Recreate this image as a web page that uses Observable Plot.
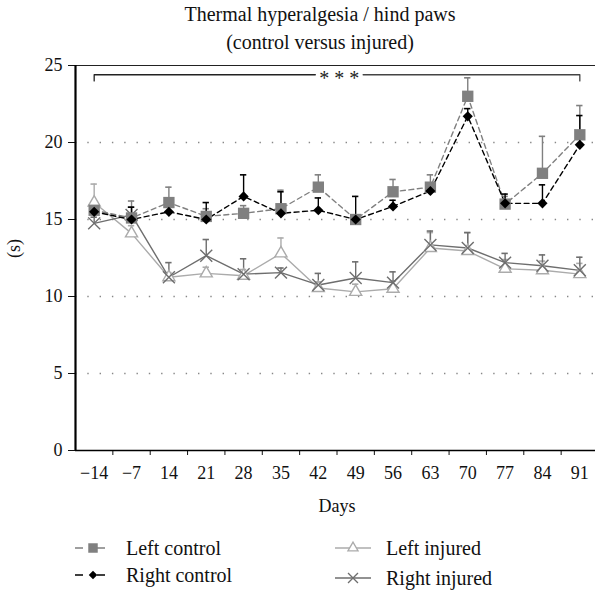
<!DOCTYPE html>
<html><head><meta charset="utf-8">
<script src="https://cdn.jsdelivr.net/npm/d3@7"></script>
<script src="https://cdn.jsdelivr.net/npm/@observablehq/plot@0.6"></script>
<style>
body{margin:0;background:#fff;font-family:"Liberation Serif",serif;color:#111;}
#wrap{position:relative;width:595px;height:591px;overflow:hidden;}
#title{position:absolute;left:45px;top:0px;width:550px;text-align:center;font-size:20px;line-height:28px;}
#chart{position:absolute;left:0;top:55px;}
.leg{position:absolute;font-size:20px;line-height:22px;display:flex;align-items:center;white-space:nowrap;}
.leg svg{margin-right:12px;}
</style></head><body>
<div id="wrap">
<div id="title">Thermal hyperalgesia / hind paws<br>(control versus injured)</div>
<div id="chart"></div>
<div id="legend"></div>
</div>
<script>
const days = ["\u221214","\u22127","14","21","28","35","42","49","56","63","70","77","84","91"];
const leftControl    = [15.6, 15.1, 16.1, 15.2, 15.4, 15.7, 17.1, 15.0, 16.8, 17.1, 23.0, 16.0, 18.0, 20.5];
const leftControlErr = [0.5, 1.1, 1.0, 0.5, 0.5, 1.2, 0.8, 0.3, 0.8, 0.8, 1.2, 0.5, 2.4, 1.9];
const rightControl    = [15.5, 15.0, 15.5, 15.0, 16.5, 15.4, 15.6, 15.0, 15.85, 16.85, 21.7, 16.05, 16.05, 19.85];
const rightControlErr = [0.5, 0.8, 0.3, 1.1, 1.4, 1.4, 0.8, 1.5, 0.4, 0.5, 0.5, 0.6, 1.2, 1.9];
const leftInjured    = [16.1, 14.1, 11.25, 11.5, 11.35, 12.8, 10.55, 10.3, 10.5, 13.15, 12.95, 11.8, 11.7, 11.45];
const leftInjuredErr = [1.2, 0.5, 0.3, 0.4, 0.4, 1.0, 0.4, 0.5, 0.5, 1.0, 1.2, 0.6, 0.6, 0.7];
const rightInjured    = [14.75, 15.3, 11.25, 12.65, 11.45, 11.55, 10.75, 11.2, 10.9, 13.35, 13.15, 12.2, 12.0, 11.7];
const rightInjuredErr = [0.4, 0.5, 0.95, 1.05, 1.0, 0.3, 0.75, 1.05, 0.7, 0.9, 1.0, 0.6, 0.7, 0.85];
const yTicks = [0, 5, 10, 15, 20, 25];
const gridValues = [5, 10, 15, 20];
const xLabel = "Days";
const yLabel = "(s)";
const bracketLeft  = [{i: 0, y: 24.0}, {i: 0, y: 24.4}, {i: 5.92, y: 24.4}];
const bracketRight = [{i: 7.2, y: 24.4}, {i: 13, y: 24.4}, {i: 13, y: 24.0}];
const bracketLabel = [{i: 6.56, y: 24.4, t: "* * *"}];

const series = [
  {name: "Left injured", vals: leftInjured, errs: leftInjuredErr, color: "#ababab", dash: null, symbol: "triangle", fill: "white", r: 4.5},
  {name: "Right injured", vals: rightInjured, errs: rightInjuredErr, color: "#6e6e6e", dash: null, symbol: "times", fill: "none", r: 5.5},
  {name: "Left control", vals: leftControl, errs: leftControlErr, color: "#808080", dash: "5,3.5", symbol: "square", fill: "#808080", r: 6.4},
  {name: "Right control", vals: rightControl, errs: rightControlErr, color: "#000000", dash: "5,3.5", symbol: "diamond2", fill: "#000000", r: 4.6}
];
const rowsOf = s => s.vals.map((v, i) => ({i, v, top: v + s.errs[i]}));

const marks = [
  Plot.ruleY(gridValues, {stroke: "#888", strokeWidth: 1.5, strokeDasharray: "1.4,10.9"}),
  Plot.ruleY([25], {stroke: "#222", strokeWidth: 1.2}),
  Plot.ruleY([0], {stroke: "#000", strokeWidth: 1.6}),
  Plot.ruleX([-0.5], {y1: 0, y2: 25, stroke: "#000", strokeWidth: 2.2}),
  Plot.line(bracketLeft, {x: "i", y: "y", stroke: "#222", strokeWidth: 1.3}),
  Plot.line(bracketRight, {x: "i", y: "y", stroke: "#444", strokeWidth: 1.3}),
  Plot.text(bracketLabel, {x: "i", y: "y", text: "t", fontSize: 20, fill: "#222", dy: 4}),
  Plot.text(days.map((d, i) => ({i, d})), {x: "i", text: "d", frameAnchor: "bottom", dy: 28, fontSize: 18, fill: "#111"}),
  Plot.text([xLabel], {x: 6.5, text: d => d, frameAnchor: "bottom", dy: 61, fontSize: 18, fill: "#111"}),
  Plot.text([yLabel], {y: 12.5, text: d => d, frameAnchor: "left", dx: -61, rotate: -90, fontSize: 18, fill: "#111"})
];
for (const s of series) {
  const rows = rowsOf(s);
  marks.push(Plot.ruleX(rows, {x: "i", y1: "v", y2: "top", stroke: s.color, strokeWidth: 1.4}));
  marks.push(Plot.ruleY(rows, {x1: d => d.i - 0.085, x2: d => d.i + 0.085, y: "top", stroke: s.color, strokeWidth: 1.6}));
  marks.push(Plot.line(rows, {x: "i", y: "v", stroke: s.color, strokeWidth: 1.4, strokeDasharray: s.dash}));
}
for (const s of series) {
  marks.push(Plot.dot(rowsOf(s), {x: "i", y: "v", symbol: s.symbol, r: s.r, fill: s.fill, stroke: s.color, strokeWidth: s.symbol === "times" ? 1.4 : (s.symbol === "triangle" ? 1.4 : 0)}));
}

const chart = Plot.plot({
  width: 595,
  height: 470,
  marginLeft: 75,
  marginRight: 0,
  marginTop: 10,
  marginBottom: 75,
  style: {fontFamily: "Liberation Serif, serif", fontSize: "18px", color: "#111", background: "white", overflow: "visible"},
  x: {type: "linear", domain: [-0.5, 13.5], range: [75, 598], ticks: d3.range(-0.5, 14, 1).slice(1), tickFormat: () => "", tickSize: 5, label: null},
  y: {domain: [0, 25], ticks: yTicks, tickSize: 7, tickPadding: 6, label: null},
  marks
});
document.getElementById("chart").appendChild(chart);

// legend
const legend = document.getElementById("legend");
const legPos = [
  {s: series[2], left: 74, top: 537},
  {s: series[3], left: 74, top: 564},
  {s: series[0], left: 334, top: 537},
  {s: series[1], left: 334, top: 567}
];
for (const p of legPos) {
  const s = p.s;
  const div = document.createElement("div");
  div.className = "leg";
  div.style.left = p.left + "px";
  div.style.top = p.top + "px";
  const svg = d3.create("svg").attr("width", 40).attr("height", 20);
  svg.append("line").attr("x1", 1).attr("x2", 37).attr("y1", 10).attr("y2", 10)
    .attr("stroke", s.color).attr("stroke-width", 1.4).attr("stroke-dasharray", s.dash ? "8,14,8" : null);
  const sym = ({square: d3.symbolSquare, diamond2: d3.symbolDiamond2, triangle: d3.symbolTriangle, times: d3.symbolTimes})[s.symbol];
  const size = Math.PI * s.r * s.r * 0.7;
  svg.append("path").attr("transform", "translate(19,10)").attr("d", d3.symbol(sym, size)())
    .attr("fill", s.fill).attr("stroke", s.color).attr("stroke-width", (s.symbol === "times" || s.symbol === "triangle") ? 1.3 : 0);
  div.appendChild(svg.node());
  const span = document.createElement("span");
  span.textContent = s.name;
  div.appendChild(span);
  legend.appendChild(div);
}
</script>
</body></html>
